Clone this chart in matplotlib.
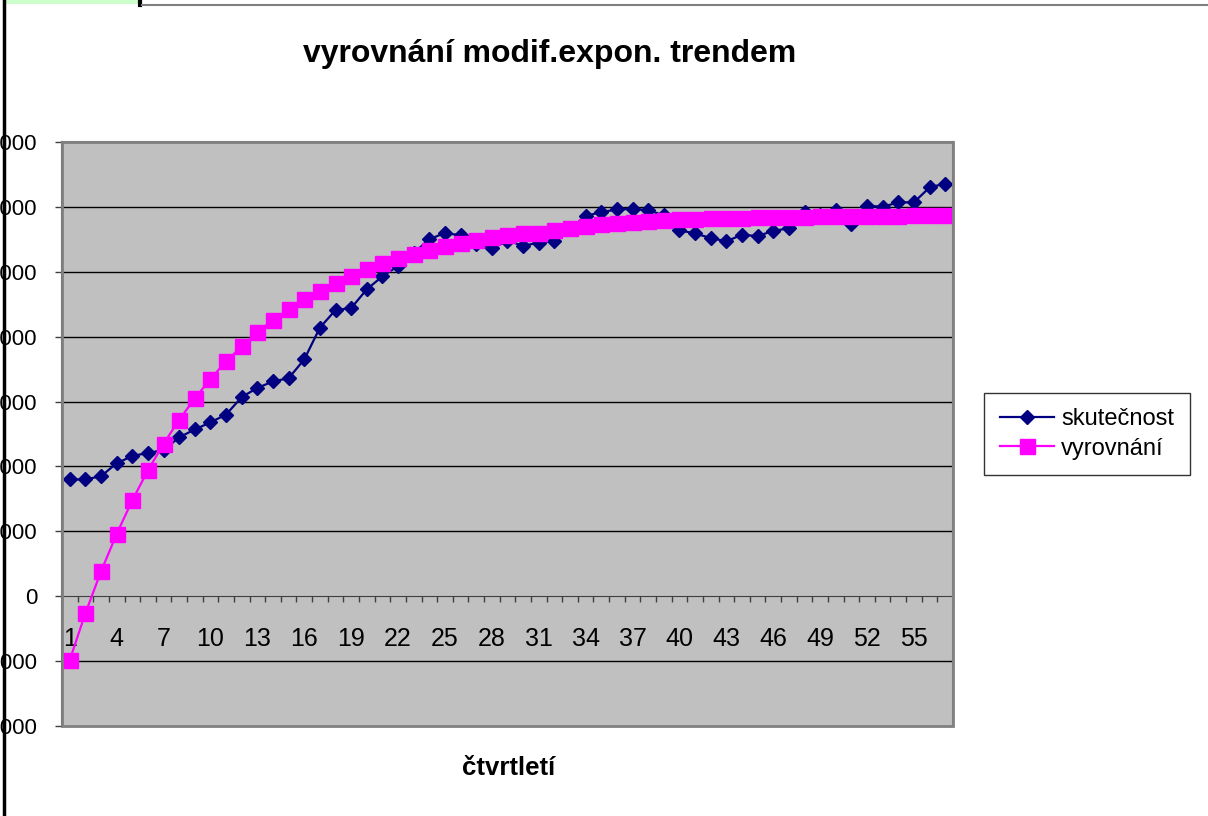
import numpy as np
import matplotlib
matplotlib.use("Agg")
import matplotlib.pyplot as plt
from matplotlib.lines import Line2D
from matplotlib.patches import Rectangle

plt.rcParams['font.family'] = ['Liberation Sans', 'DejaVu Sans']

quarters = list(range(1, 58))

skutecnost = [1800, 1800, 1850, 2050, 2160, 2210, 2250, 2450, 2570, 2680,
              2800, 3070, 3210, 3310, 3360, 3650, 4140, 4410, 4440, 4730,
              4930, 5090, 5290, 5500, 5600, 5560, 5430, 5360, 5480, 5400,
              5450, 5480, 5660, 5860, 5920, 5960, 5970, 5950, 5870, 5640,
              5590, 5520, 5470, 5570, 5550, 5630, 5670, 5920, 5880, 5950,
              5740, 6020, 6000, 6070, 6070, 6300, 6360]

vyrovnani = [-980, -260, 385, 960, 1480, 1940, 2350, 2720, 3050, 3350,
             3620, 3850, 4070, 4260, 4420, 4580, 4710, 4830, 4940, 5040,
             5130, 5210, 5270, 5330, 5400, 5450, 5490, 5540, 5570, 5590,
             5600, 5650, 5680, 5710, 5730, 5750, 5770, 5780, 5800, 5810,
             5820, 5825, 5830, 5835, 5840, 5845, 5850, 5850, 5855, 5860,
             5860, 5860, 5865, 5865, 5870, 5870, 5870]

y_ticks = [-2000, -1000, 0, 1000, 2000, 3000, 4000, 5000, 6000, 7000]
x_labels = list(range(1, 58, 3))

W, H = 1208, 816
fig = plt.figure(figsize=(W / 100, H / 100), dpi=100)
ax = fig.add_axes([62 / W, 1 - 726 / H, 891 / W, 584 / H])
ax.set_facecolor('#C0C0C0')

ax.plot(quarters, skutecnost, color='#000080', lw=1.6, marker='D', ms=7.5,
        label='skutečnost', zorder=3)
ax.plot(quarters, vyrovnani, color='#FF00FF', lw=1.6, marker='s', ms=10.8,
        label='vyrovnání', zorder=4)

ax.set_xlim(0.5, 57.5)
ax.set_ylim(-2000, 7000)

# gridlines
for v in y_ticks[1:-1]:
    if v != 0:
        ax.axhline(v, color='black', lw=1, zorder=1)

ax.set_yticks(y_ticks)
ax.set_yticklabels([str(v) for v in y_ticks])
ax.tick_params(axis='y', direction='out', length=5, width=1, pad=13,
               labelsize=16, color='#404040')

# category axis crosses at 0
ax.spines['bottom'].set_position(('data', 0))
ax.spines['bottom'].set_color('#404040')
ax.spines['bottom'].set_zorder(2)
ax.set_xticks(np.arange(0.5, 58, 1.0))
ax.set_xticklabels([])
ax.tick_params(axis='x', which='major', direction='out', length=4, width=1,
               color='#404040')
ax.set_xticks(x_labels, minor=True)
ax.set_xticklabels([str(v) for v in x_labels], minor=True)
ax.tick_params(axis='x', which='minor', length=0, pad=22, labelsize=18)

for s in ['top', 'right']:
    ax.spines[s].set_color('#808080')
    ax.spines[s].set_linewidth(1.5)
ax.spines['left'].set_color('#404040')
ax.spines['left'].set_linewidth(1.5)
ax.add_patch(Rectangle((0, 0), 1, 1, transform=ax.transAxes, fill=False,
                       edgecolor='#808080', lw=2, zorder=5, clip_on=False))

fig.text(550 / W, 1 - 54 / H, 'vyrovnání modif.expon. trendem', ha='center',
         va='center', fontsize=23, fontweight='bold')
fig.text(509 / W, 1 - 768 / H, 'čtvrtletí', ha='center', va='center',
         fontsize=18.5, fontweight='bold')

leg = fig.legend(loc='center', bbox_to_anchor=(1087 / W, 1 - 434 / H),
                 fontsize=17, frameon=True, fancybox=False, edgecolor='black',
                 handlelength=2.3, handletextpad=0.3, borderpad=0.65,
                 labelspacing=0.3, borderaxespad=0)
leg.get_frame().set_linewidth(1)

# sheet borders around the chart
fig.add_artist(Rectangle((5 / W, 1 - 4 / H), 135 / W, 4 / H,
                         transform=fig.transFigure, facecolor='#CCFFCC',
                         edgecolor='none'))
fig.add_artist(Line2D([140 / W, 140 / W], [1, 1 - 5 / H], color='black', lw=3))
fig.add_artist(Line2D([142 / W, 1], [1 - 5 / H, 1 - 5 / H], color='#808080', lw=1.5))
fig.add_artist(Line2D([4 / W, 4 / W], [0, 1], color='black', lw=2.5))

fig.savefig('out.png', dpi=100)
